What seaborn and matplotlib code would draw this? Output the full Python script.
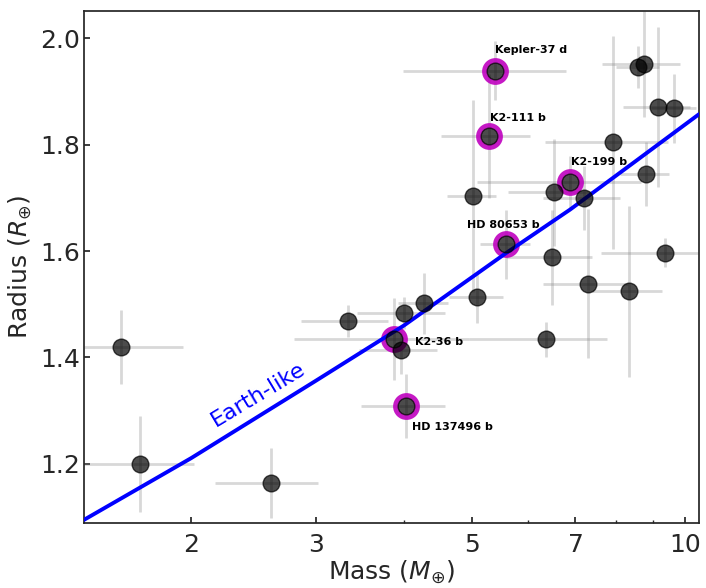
import numpy as np
import pandas as pd
import matplotlib
matplotlib.use("Agg")
import matplotlib.pyplot as plt
from matplotlib.ticker import FixedLocator, FixedFormatter, NullFormatter
import seaborn as sns

# planet sample
mass = [1.59, 1.69, 2.59, 3.33, 3.87, 3.96, 4.03, 4.00, 4.27, 5.08,
        5.58, 5.01, 5.28, 5.39, 6.52, 6.88, 7.20, 7.90, 8.58, 8.74,
        9.17, 9.66, 8.80, 6.48, 7.30, 8.34, 9.37, 6.35]
radius = [1.420, 1.200, 1.164, 1.469, 1.435, 1.414, 1.309, 1.483, 1.502, 1.513,
          1.613, 1.703, 1.816, 1.939, 1.710, 1.729, 1.699, 1.804, 1.946, 1.951,
          1.871, 1.868, 1.745, 1.588, 1.539, 1.524, 1.597, 1.434]
mass_err = [0.36, 0.33, 0.43, 0.47, 1.07, 0.50, 0.55, 0.57, 0.35, 0.45,
            0.45, 0.40, 0.76, 1.40, 0.90, 1.80, 0.90, 1.56, 0.60, 1.10,
            1.00, 0.70, 0.70, 0.90, 1.00, 0.95, 1.77, 1.40]
radius_err = [0.070, 0.090, 0.066, 0.030, 0.077, 0.045, 0.060, 0.030, 0.057, 0.048,
              0.065, 0.180, 0.117, 0.055, 0.100, 0.050, 0.060, 0.200, 0.040, 0.100,
              0.150, 0.065, 0.060, 0.090, 0.140, 0.160, 0.027, 0.033]
names = ["", "", "", "", "K2-36 b", "", "HD 137496 b", "", "", "",
         "HD 80653 b", "", "K2-111 b", "Kepler-37 d", "", "K2-199 b", "", "", "", "",
         "", "", "", "", "", "", "", ""]

# Earth-like composition curve
earth_mass = [1.41, 2.0, 3.0, 4.0, 5.58, 6.88, 8.5, 10.47]
earth_radius = [1.095, 1.211, 1.356, 1.460, 1.596, 1.678, 1.768, 1.857]

# label offsets (points) for the highlighted planets
label_offset = {
    "Kepler-37 d": (0, 15, "left"),
    "K2-111 b": (1, 12.7, "left"),
    "K2-199 b": (0.5, 15, "left"),
    "HD 80653 b": (-2, 13.7, "center"),
    "K2-36 b": (15.6, -2.4, "left"),
    "HD 137496 b": (4, -15.3, "left"),
}

df = pd.DataFrame({"mass": mass, "radius": radius, "mass_err": mass_err,
                   "radius_err": radius_err, "name": names})
hl = df[df["name"] != ""]

sns.set_theme(style="ticks", rc={"xtick.direction": "in", "ytick.direction": "in"})

fig = plt.figure(figsize=(7.06, 5.88), dpi=100)
ax = fig.add_axes([0.119, 0.1105, 0.871, 0.8708])

ax.errorbar(df["mass"], df["radius"], xerr=df["mass_err"], yerr=df["radius_err"],
            fmt="none", ecolor="grey", elinewidth=2, alpha=0.3, zorder=1)
# magenta rings round the named planets
ax.plot(hl["mass"], hl["radius"], "o", mfc="none", mec="#bf00bf", ms=15.5, mew=3.8,
        alpha=0.9, zorder=2)
sns.lineplot(x=earth_mass, y=earth_radius, color="#0000ff", lw=2.8, ax=ax, zorder=3)
ax.plot(df["mass"], df["radius"], "o", color="#000000", ms=12, alpha=0.7, zorder=4)

for _, row in hl.iterrows():
    dx, dy, ha = label_offset[row["name"]]
    ax.annotate(row["name"], (row["mass"], row["radius"]), xytext=(dx, dy),
                textcoords="offset points", ha=ha, va="center",
                fontsize=8, fontweight="bold", color="#000000", zorder=5)

ax.text(2.49, 1.33, "Earth-like", color="#0000ff", fontsize=16, rotation=31,
        ha="center", va="center", rotation_mode="anchor")

ax.set_xscale("log")
ax.set_xlim(1.41, 10.47)
ax.set_ylim(1.089, 2.051)
ax.xaxis.set_major_locator(FixedLocator([2, 3, 5, 7, 10]))
ax.xaxis.set_major_formatter(FixedFormatter(["2", "3", "5", "7", "10"]))
ax.xaxis.set_minor_locator(FixedLocator([4, 6, 8, 9]))
ax.xaxis.set_minor_formatter(NullFormatter())
ax.set_yticks([1.2, 1.4, 1.6, 1.8, 2.0])
ax.tick_params(axis="both", which="major", labelsize=18, length=4)
ax.tick_params(axis="x", which="major", pad=7)
ax.tick_params(axis="y", which="major", pad=3)
ax.tick_params(axis="x", which="minor", length=2.5)

ax.set_xlabel(r"Mass ($M_{\oplus}$)", fontsize=18, labelpad=1)
ax.set_ylabel(r"Radius ($R_{\oplus}$)", fontsize=18)

fig.savefig("out.png", dpi=100)
